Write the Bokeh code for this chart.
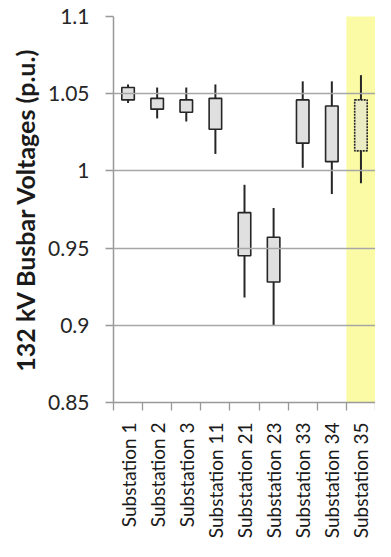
import math
from bokeh.plotting import figure
from bokeh.models import Range1d, FixedTicker, BoxAnnotation, ColumnDataSource, CDSView, IndexFilter
from bokeh.embed import file_html
from bokeh.resources import INLINE

categories = ["Substation 1", "Substation 2", "Substation 3", "Substation 11",
              "Substation 21", "Substation 23", "Substation 33", "Substation 34",
              "Substation 35"]
v_high = [1.056, 1.054, 1.054, 1.056, 0.991, 0.976, 1.058, 1.058, 1.062]
v_q3 = [1.054, 1.047, 1.046, 1.047, 0.973, 0.957, 1.046, 1.042, 1.046]
v_q1 = [1.046, 1.040, 1.038, 1.027, 0.945, 0.928, 1.018, 1.006, 1.013]
v_low = [1.044, 1.034, 1.032, 1.011, 0.918, 0.900, 1.002, 0.985, 0.992]
y_ticks = [0.85, 0.9, 0.95, 1.0, 1.05, 1.1]
y_tick_labels = ["0.85", "0.9", "0.95", "1", "1.05", "1.1"]
highlight_index = 8

n = len(categories)
xc = [i + 0.5 for i in range(n)]
src = ColumnDataSource(dict(x=xc, high=v_high, q3=v_q3, q1=v_q1, low=v_low))
normal_view = CDSView(filter=IndexFilter([i for i in range(n) if i != highlight_index]))
hl_view = CDSView(filter=IndexFilter([highlight_index]))

p = figure(width=375, height=541, output_backend="svg", toolbar_location=None,
           x_range=Range1d(0, n), y_range=Range1d(0.85, 1.1),
           min_border_left=113, min_border_right=0, min_border_top=16,
           min_border_bottom=0)
p.outline_line_color = None
p.background_fill_color = "white"
p.border_fill_color = "white"

hl = BoxAnnotation(left=highlight_index, right=highlight_index + 1,
                   top=0, top_units="canvas", bottom=541, bottom_units="canvas",
                   fill_color="#fbfba6", fill_alpha=1.0, line_alpha=0,
                   level="annotation")
p.add_layout(hl)

p.xgrid.visible = False
p.ygrid.ticker = FixedTicker(ticks=y_ticks)
p.ygrid.grid_line_color = "#a6a6a6"
p.ygrid.grid_line_width = 1.3
p.ygrid.level = "overlay"

seg = p.segment(x0="x", x1="x", y0="low", y1="high", source=src,
                line_color="#262626", line_width=2)
box = p.vbar(x="x", width=0.43, top="q3", bottom="q1", source=src, view=normal_view,
             fill_color="#e0e0e0", line_color="#262626", line_width=1.6)
box_hl = p.vbar(x="x", width=0.43, top="q3", bottom="q1", source=src, view=hl_view,
                fill_color="#ececc4", line_color="#262626", line_width=1.6,
                line_dash="2 1")
for r in (seg, box, box_hl):
    r.level = "overlay"

xa = p.xaxis[0]
xa.ticker = FixedTicker(ticks=xc, minor_ticks=list(range(n + 1)))
xa.major_label_overrides = {x: c for x, c in zip(xc, categories)}
xa.major_label_orientation = math.pi / 2
xa.major_tick_out = 0
xa.major_tick_in = 0
xa.minor_tick_out = 8
xa.minor_tick_in = 0
xa.minor_tick_line_color = "#999999"
xa.minor_tick_line_width = 1.3
xa.axis_line_color = "#999999"
xa.axis_line_width = 1.5
xa.major_label_standoff = 12
xa.major_label_text_font = "Lato"
xa.major_label_text_font_size = "19px"
xa.major_label_text_color = "#1a1a1a"
xa.level = "overlay"

ya = p.yaxis[0]
ya.ticker = FixedTicker(ticks=y_ticks)
ya.major_label_overrides = {t: s for t, s in zip(y_ticks, y_tick_labels)}
ya.minor_tick_line_color = None
ya.major_tick_out = 8
ya.major_tick_in = 0
ya.major_tick_line_color = "#999999"
ya.major_tick_line_width = 1.3
ya.axis_line_color = "#999999"
ya.axis_line_width = 1.5
ya.major_label_standoff = 16
ya.major_label_text_font = "Lato"
ya.major_label_text_font_size = "21px"
ya.major_label_text_color = "#262626"
ya.axis_label = "132 kV Busbar Voltages (p.u.)"
ya.axis_label_text_font = "Lato"
ya.axis_label_text_font_style = "bold"
ya.axis_label_text_font_size = "25px"
ya.axis_label_text_color = "#1a1a1a"
ya.axis_label_standoff = 5

open("out.html", "w").write(file_html(p, INLINE))
